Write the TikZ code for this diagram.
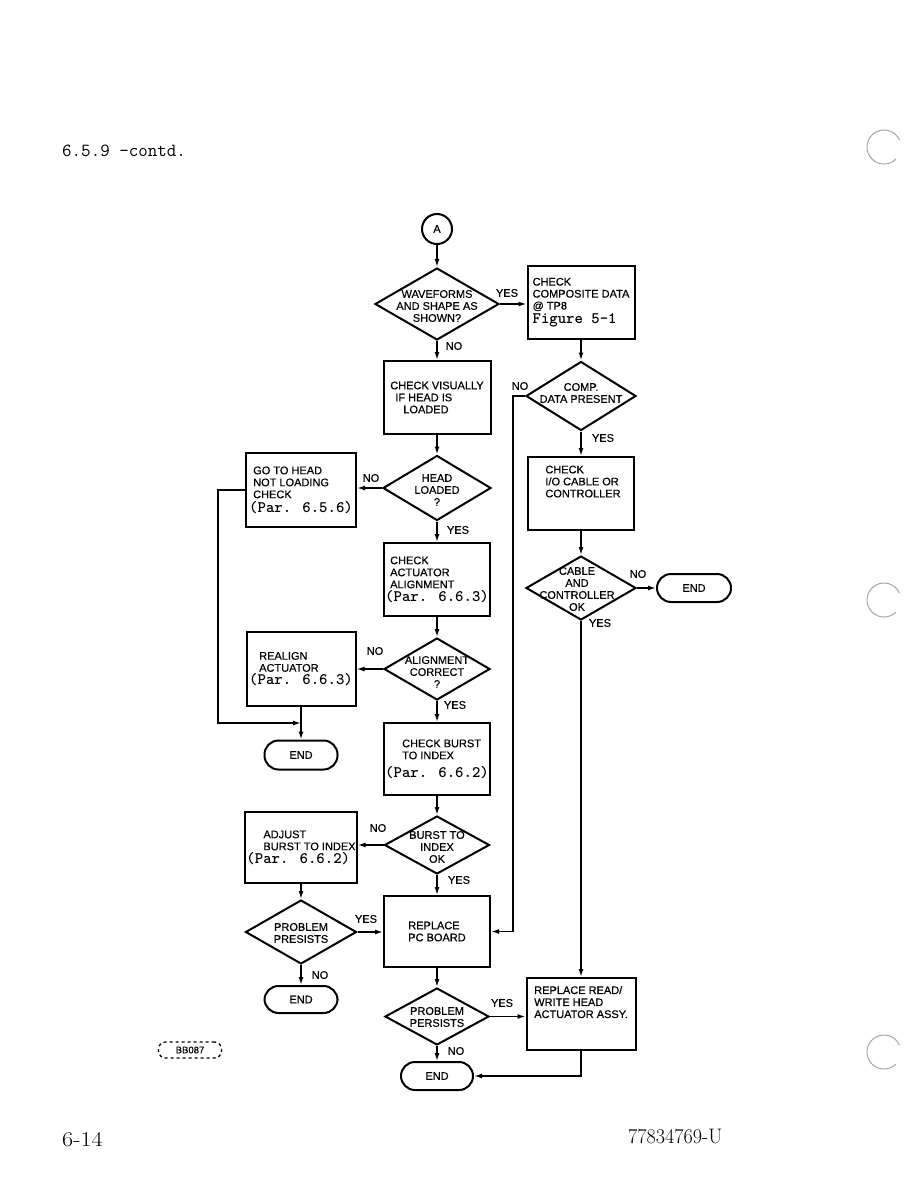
\documentclass[tikz,border=0pt]{standalone}
\usepackage{fontspec}
\usepackage{graphicx}
\usepackage{tikz}
\usetikzlibrary{shapes.geometric,arrows.meta}
\newfontfamily\chartfont{Liberation Sans}[BoldFont={Liberation Sans},BoldFeatures={FakeBold=0.4}]
\newcommand{\partxt}{\fontsize{16}{17}\selectfont\ttfamily}

\begin{document}
\begin{tikzpicture}[x=1pt,y=-1pt,
    box/.style={draw,line width=2pt,minimum width=107pt,minimum height=73pt,inner sep=1pt,align=left,
        font=\chartfont\bfseries\fontsize{11}{12}\selectfont},
    decision/.style={draw,diamond,line width=2pt,inner sep=0pt},
    dtext/.style={align=center,inner sep=0pt,font=\chartfont\bfseries\fontsize{11}{12}\selectfont},
    term/.style={draw,rounded corners=14pt,line width=2pt,minimum width=73pt,minimum height=29pt,
        font=\chartfont\bfseries\fontsize{11}{12}\selectfont},
    answer/.style={inner sep=0pt,font=\chartfont\bfseries\fontsize{11}{12}\selectfont},
    flow/.style={line width=1.5pt,-{Latex[length=8pt,width=5pt]}}]
    \useasboundingbox (0,0) rectangle (918,1188);
    % page text
    \node[anchor=base west,inner sep=0pt,font=\fontsize{18.5}{20}\selectfont\ttfamily] (hdr) at (62,157) {6.5.9 -contd.};
    \node[anchor=base west,inner sep=0pt,font=\fontsize{21}{22}\selectfont] (pgno) at (62,1146) {\scalebox{1.15}[1]{6-14}};
    \node[anchor=base west,inner sep=0pt,font=\fontsize{21}{22}\selectfont] (docno) at (628,1143) {\scalebox{0.96}[1]{77834769-U}};
    \node[draw,dashed,rounded corners=7pt,line width=1.3pt,minimum width=63pt,minimum height=16pt,inner sep=1pt,
        font=\chartfont\bfseries\fontsize{9.5}{10}\selectfont] (code) at (190,1050) {BB087};
    % punch holes
    \draw[gray!70,line width=1pt] (884,147) ++(45:17) arc[start angle=45,end angle=336,radius=17];
    \draw[gray!70,line width=1pt] (884,600) ++(45:17) arc[start angle=45,end angle=336,radius=17];
    \draw[gray!70,line width=1pt] (884,1052) ++(45:17) arc[start angle=45,end angle=336,radius=17];

    % middle column
    \node[draw,circle,line width=2pt,minimum size=30pt,inner sep=0pt,font=\chartfont\bfseries\fontsize{11}{12}\selectfont] (conA) at (437,229) {A};
    \node[decision,minimum width=124pt,minimum height=72pt] (wave) at (437,304) {};
    \node[dtext] at (437,306) {WAVEFORMS\\AND SHAPE AS\\SHOWN?};
    \node[box] (visual) at (437,397.5) {CHECK VISUALLY\\\hspace*{5pt}IF HEAD IS\\\hspace*{13pt}LOADED};
    \node[decision,minimum width=108pt,minimum height=65pt] (headld) at (437,488) {};
    \node[dtext] at (437,490) {HEAD\\LOADED\\?};
    \node[box,minimum width=106pt] (actchk) at (437,579.5) {\hspace*{5pt}CHECK\\\hspace*{5pt}ACTUATOR\\\hspace*{5pt}ALIGNMENT\\[1pt]{\partxt(Par. 6.6.3)}};
    \node[decision,minimum width=106pt,minimum height=62pt] (align) at (437,669) {};
    \node[dtext] at (437,672) {ALIGNMENT\\CORRECT\\?};
    \node[box,minimum width=106pt,minimum height=72pt] (burstchk) at (437,759) {\hspace*{17pt}CHECK BURST\\\hspace*{17pt}TO INDEX\\[6pt]{\partxt(Par. 6.6.2)}};
    \node[decision,minimum width=105pt,minimum height=58pt] (burst) at (437,845) {};
    \node[dtext] at (437,847) {BURST TO\\INDEX\\OK};
    \node[box,minimum width=106pt,minimum height=71pt] (pcboard) at (437,931.5) {REPLACE\\PC BOARD};
    \node[decision,minimum width=104pt,minimum height=57pt] (persist) at (437,1016.5) {};
    \node[dtext] at (437,1017) {PROBLEM\\PERSISTS};
    \node[term,minimum width=72pt,minimum height=28pt] (endC) at (437,1076) {END};

    % left column
    \node[box,minimum width=110pt,minimum height=74pt] (gohead) at (301,490) {\hspace*{4pt}GO TO HEAD\\\hspace*{4pt}NOT LOADING\\\hspace*{4pt}CHECK\\[2pt]{\partxt(Par. 6.5.6)}};
    \node[box,minimum width=109pt,minimum height=74pt] (realign) at (301,669) {\hspace*{10pt}REALIGN\\\hspace*{10pt}ACTUATOR\\[1pt]{\partxt(Par. 6.6.3)}};
    \coordinate (joinA) at (301,723);
    \node[term] (endA) at (301,755) {END};
    \node[box,minimum width=110pt,minimum height=71pt] (adjust) at (301,847.5) {\hspace*{17pt}ADJUST\\\hspace*{17pt}BURST TO INDEX\\[1pt]{\partxt(Par. 6.6.2)}};
    \node[decision,minimum width=111pt,minimum height=64pt] (presist) at (301,932) {};
    \node[dtext] at (301,933) {PROBLEM\\PRESISTS};
    \node[term,minimum height=27pt] (endB) at (301,999.5) {END};

    % right column
    \node[box] (composite) at (581,302.5) {CHECK\\COMPOSITE DATA\\@ TP8\\[2pt]{\partxt Figure 5-1}};
    \node[decision,minimum width=110pt,minimum height=69pt] (comp) at (581,396) {};
    \node[dtext] at (581,393) {COMP.\\DATA PRESENT};
    \node[box,minimum width=106pt] (iocable) at (581,493.5) {\hspace*{4pt}CHECK\\\hspace*{4pt}I/O CABLE OR\\\hspace*{4pt}CONTROLLER\\[12pt]};
    \node[decision,minimum width=110pt,minimum height=64pt] (cable) at (581,588) {};
    \node[dtext] at (577,589) {CABLE\\AND\\CONTROLLER\\OK};
    \node[term,minimum width=74pt,minimum height=28pt] (endD) at (694,588) {END};
    \node[box,minimum width=109pt,minimum height=72pt] (readwrite) at (581,1014) {REPLACE READ/\\WRITE HEAD\\ACTUATOR ASSY.\\[12pt]};

    % answers
    \node[answer] (y1) at (507,293) {YES};
    \node[answer] (n1) at (454,346) {NO};
    \node[answer] (n2) at (371,478) {NO};
    \node[answer] (y2) at (458,530) {YES};
    \node[answer] (n3) at (375,651) {NO};
    \node[answer] (y3) at (455,705) {YES};
    \node[answer] (n4) at (378,828) {NO};
    \node[answer] (y4) at (459,880) {YES};
    \node[answer] (y5) at (366,919) {YES};
    \node[answer] (n5) at (320,975) {NO};
    \node[answer] (y6) at (502,1003) {YES};
    \node[answer] (n6) at (456,1051) {NO};
    \node[answer] (n7) at (520,386) {NO};
    \node[answer] (y7) at (603,438) {YES};
    \node[answer] (n8) at (638,574) {NO};
    \node[answer] (y8) at (600,623) {YES};

    % connectors
    \draw[flow] (conA) -- (wave);
    \draw[flow] (wave.east) -- (wave.east -| composite.west);
    \draw[flow] (wave) -- (visual);
    \draw[flow] (visual) -- (headld);
    \draw[flow] (headld.west) -- (headld.west -| gohead.east);
    \draw[flow] (headld) -- (actchk);
    \draw[flow] (gohead.west) -- ++(-27,0) |- (joinA);
    \draw[flow] (actchk) -- (align);
    \draw[flow] (align.west) -- (align.west -| realign.east);
    \draw[flow] (realign) -- (endA);
    \draw[flow] (align) -- (burstchk);
    \draw[flow] (burstchk) -- (burst);
    \draw[flow] (burst.west) -- (burst.west -| adjust.east);
    \draw[flow] (adjust) -- (presist);
    \draw[flow] (presist.east) -- (presist.east -| pcboard.west);
    \draw[flow] (presist) -- (endB);
    \draw[flow] (burst) -- (pcboard);
    \draw[flow] (pcboard) -- (persist);
    \draw[flow] (persist.east) -- (persist.east -| readwrite.west);
    \draw[flow] (persist) -- (endC);
    \draw[flow] (readwrite.south) |- (endC.east);
    \draw[flow] (composite) -- (comp);
    \draw[flow] (comp.west) -- ++(-12,0) |- (pcboard.east);
    \draw[flow] (comp) -- (iocable);
    \draw[flow] (iocable) -- (cable);
    \draw[flow] (cable.east) -- (endD.west);
    \draw[flow] (cable) -- (readwrite);
\end{tikzpicture}
\end{document}
